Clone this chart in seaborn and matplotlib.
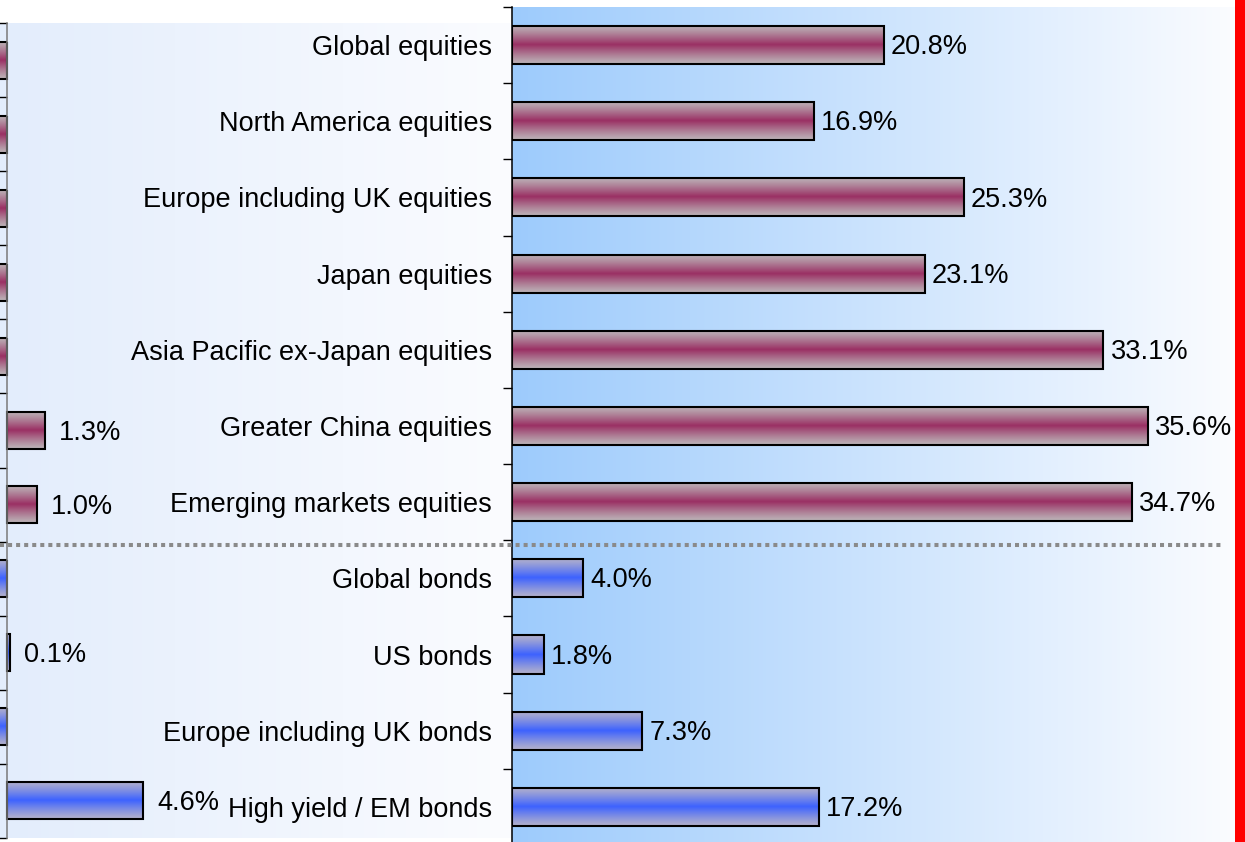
import numpy as np
import matplotlib
matplotlib.use("Agg")
import matplotlib.pyplot as plt
import seaborn as sns
from matplotlib.colors import to_rgb
from matplotlib.lines import Line2D
from matplotlib.patches import Rectangle

# ---------------- data ----------------
categories = ["Global equities", "North America equities", "Europe including UK equities",
              "Japan equities", "Asia Pacific ex-Japan equities", "Greater China equities",
              "Emerging markets equities", "Global bonds", "US bonds",
              "Europe including UK bonds", "High yield / EM bonds"]
asset_class = ["Equities"] * 7 + ["Bonds"] * 4
right_values = [20.8, 16.9, 25.3, 23.1, 33.1, 35.6, 34.7, 4.0, 1.8, 7.3, 17.2]
left_values = [-2.1, -3.4, -1.2, -2.7, -0.4, 1.3, 1.0, -1.8, 0.1, -0.9, 4.6]

# ---------------- style ----------------
sns.set_theme(style="white")
plt.rcParams['font.family'] = ['Liberation Sans', 'DejaVu Sans']
FS = 19.5

W, H = 1245, 842
fig = plt.figure(figsize=(W / 100, H / 100), dpi=100)
fig.patch.set_facecolor("white")


def px(x0, y0, x1, y1):
    return [x0 / W, 1 - y1 / H, (x1 - x0) / W, (y1 - y0) / H]


ax_l = fig.add_axes(px(-300, 23, 512, 838))
ax_r = fig.add_axes(px(512, 7, 1235, 845))

grad = {
    "Equities": (np.array(to_rgb("#bcb4b8")), np.array(to_rgb("#9a3064"))),
    "Bonds": (np.array(to_rgb("#b3b1cc")), np.array(to_rgb("#3d62ff"))),
}
palette = {"Equities": "#9a3064", "Bonds": "#3d62ff"}


def background(ax, c0, c1, xlim, ylim, start=0.0):
    n = 400
    xs = np.linspace(xlim[0], xlim[1], n)
    t = np.clip((xs - start) / (xlim[1] - start), 0, 1)
    a, b = np.array(to_rgb(c0)), np.array(to_rgb(c1))
    cols = a[None, :] * (1 - t)[:, None] + b[None, :] * t[:, None]
    img = cols[None, :, :]
    ax.imshow(img, extent=[xlim[0], xlim[1], ylim[0], ylim[1]], aspect="auto",
              interpolation="bilinear", zorder=0)


def bar_gradients(ax):
    for p in ax.patches:
        x0, y0 = p.get_x(), p.get_y()
        w, h = p.get_width(), p.get_height()
        idx = int(round(y0 + h / 2))
        edge, mid = grad[asset_class[idx]]
        t = np.linspace(0, 1, 80)
        wgt = (1 - np.abs(2 * t - 1)) ** 1.15
        cols = edge[None, :] * (1 - wgt)[:, None] + mid[None, :] * wgt[:, None]
        ax.imshow(cols[:, None, :], extent=[x0, x0 + w, y0 + h, y0], aspect="auto",
                  interpolation="bilinear", zorder=2)
        p.set_facecolor("none")
        p.set_edgecolor("black")
        p.set_linewidth(1.5)
        p.set_zorder(3)


def draw_panel(ax, values, xlim, ylim, bg0, bg1, gap_pt, spine_color, show_labels):
    sns.barplot(x=values, y=categories, hue=asset_class, palette=palette, dodge=False,
                width=0.5, orient="h", errorbar=None, legend=False, ax=ax)
    bar_gradients(ax)
    background(ax, bg0, bg1, xlim, ylim)
    for i, v in enumerate(values):
        # labels of the negative bars of the cropped panel lie outside the picture
        if v >= 0:
            ax.annotate(f"{v:.1f}%", (v, i), xytext=(gap_pt, -1.5), textcoords="offset points",
                        ha="left", va="center", fontsize=FS, color="black", zorder=5,
                        annotation_clip=False)
    ax.set_xlim(*xlim)
    ax.set_ylim(*ylim)
    ax.set_xlabel("")
    ax.set_ylabel("")
    ax.set_xticks([])
    ax.set_yticks(np.arange(-0.5, len(categories), 1.0), minor=True)
    ax.tick_params(axis="y", which="minor", length=6.5, width=1.0, direction="out",
                   color="black", left=True)
    ax.tick_params(axis="y", which="major", length=0, pad=14.4, labelsize=FS,
                   labelcolor="black")
    if not show_labels:
        ax.set_yticklabels([])
    for s in ["top", "right", "bottom"]:
        ax.spines[s].set_visible(False)
    ax.spines["left"].set_visible(True)
    ax.spines["left"].set_color(spine_color)
    ax.spines["left"].set_linewidth(1.1)
    ax.spines["left"].set_zorder(4)


# left (cropped) panel
lscale = 29.6
draw_panel(ax_l, left_values, (-307 / lscale, 505 / lscale), (10.5, -0.5),
           "#e3edfc", "#fbfcff", 10, "#7a7a7a", False)
ax_l.spines["left"].set_position(("data", 0))

# right panel
rscale = 17.87
draw_panel(ax_r, right_values, (0, 723 / rscale), (10.5, -0.5),
           "#9dcbfc", "#fbfcff", 5, "black", True)

# separator between equities and bonds
fig.add_artist(Line2D([0, 1222 / W], [1 - 545 / H, 1 - 545 / H], transform=fig.transFigure,
                      color="#8a8a8a", lw=2.9, linestyle=(0, (1, 1)),
                      dash_capstyle="butt", zorder=10))
# red edge strip
fig.add_artist(Rectangle((1235 / W, 0), 10 / W, 1, transform=fig.transFigure,
                         facecolor="#ff0000", edgecolor="none", zorder=10))

fig.savefig("out.png", dpi=100)
